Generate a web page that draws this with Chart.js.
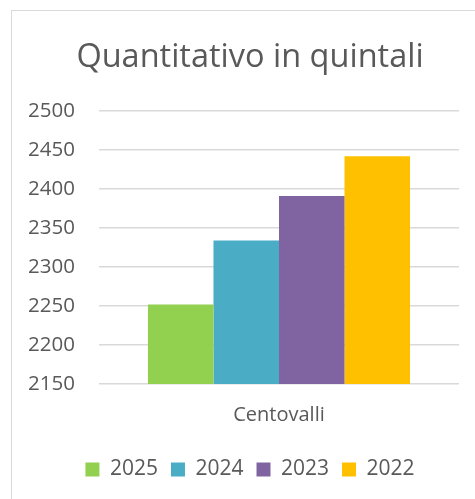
<!DOCTYPE html>
<html>
<head>
<meta charset="utf-8">
<script src="https://cdn.jsdelivr.net/npm/chart.js@4/dist/chart.umd.min.js"></script>
<style>
  html, body { margin: 0; padding: 0; background: #fff; }
  #wrap { position: relative; width: 475px; height: 499px; }
  #frame { position: absolute; left: 11px; top: 10px; right: 0; bottom: 0;
           border-left: 1px solid #d9d9d9; border-top: 1px solid #d9d9d9; }
  canvas { position: absolute; left: 0; top: 0; }
</style>
</head>
<body>
<div id="wrap">
  <div id="frame"></div>
  <canvas id="myCanvas" width="475" height="499"></canvas>
</div>
<script>
const categories = ["Centovalli"];
const years = ["2025", "2024", "2023", "2022"];
const values = [2252, 2334, 2391, 2442];
const colors = ["#92d050", "#4bacc6", "#8064a2", "#ffc000"];
const yTicks = [2150, 2200, 2250, 2300, 2350, 2400, 2450, 2500];

const textColor = "#595959";
const fontFamily = "'Open Sans', sans-serif";

const ctx = document.getElementById("myCanvas").getContext("2d");

new Chart(ctx, {
  type: "bar",
  data: {
    labels: categories,
    datasets: years.map((year, i) => ({
      label: year,
      data: [values[i]],
      backgroundColor: colors[i],
      borderWidth: 0,
      categoryPercentage: 0.728,
      barPercentage: 1.0,
    })),
  },
  options: {
    responsive: false,
    animation: false,
    layout: { padding: { top: 14, right: 16, bottom: 9, left: 41 } },
    plugins: {
      title: {
        display: true,
        text: "Quantitativo in quintali",
        color: textColor,
        font: { family: fontFamily, size: 32.5, weight: "normal" },
        padding: { top: 24, bottom: 34 },
      },
      legend: {
        position: "bottom",
        labels: {
          color: textColor,
          font: { family: fontFamily, size: 21 },
          boxWidth: 14,
          boxHeight: 14,
          padding: 13,
        },
      },
      tooltip: { enabled: false },
    },
    scales: {
      x: {
        grid: { display: false, drawTicks: false },
        border: { display: false },
        ticks: {
          color: textColor,
          font: { family: fontFamily, size: 20 },
          padding: 19,
        },
      },
      y: {
        min: 2150,
        max: 2500,
        afterBuildTicks: (scale) => {
          scale.ticks = yTicks.map((v) => ({ value: v }));
        },
        afterFit: (scale) => {
          scale.width = 58;
        },
        grid: { color: "#d9d9d9", lineWidth: 1.5, drawTicks: false },
        border: { display: false },
        ticks: {
          color: textColor,
          font: { family: fontFamily, size: 20.5 },
          mirror: true,
          padding: -71,
          callback: (value) => String(value),
        },
      },
    },
  },
});
</script>
</body>
</html>
